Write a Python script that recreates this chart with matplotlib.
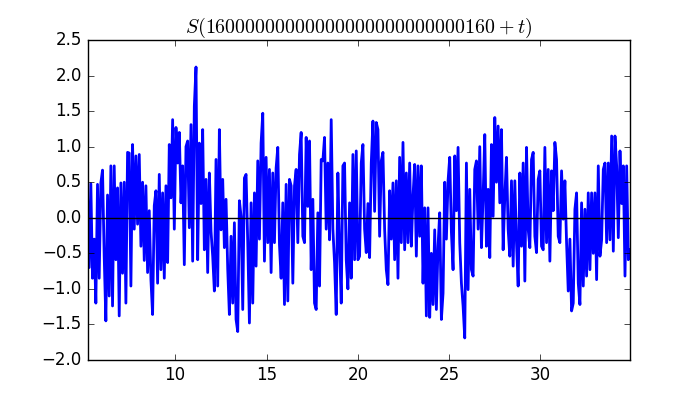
import numpy as np
import matplotlib
matplotlib.use("Agg")
import matplotlib.pyplot as plt

plt.style.use('classic')

# S(T+t), evenly spaced samples over t = 5.2 ... 34.9
t_first = 5.2
t_last  = 34.9
s_vals = [
    # t ~ 5.2 - 8.0
    0.35, -0.7, 0.48, -0.85, -0.3, -1.2, 0.47, -0.85, 0.49, 0.67,
    -0.54, -1.45, 0.32, -1.1, 0.73, -1.24, 0.73, -0.59, 0.42, -1.38,
    0.49, -0.78, 0.5, -1.2, 0.92, 0.91, -0.96, 1.03, -0.16, 0.87, -0.09,
    # t ~ 8.1 - 11.0
    0.89, -0.4, 0.5, -0.6, 0.45, -0.77, 0.1, -0.87, -1.36, 0.17,
    0.38, -0.92, 0.61, -0.73, 0.35, -0.85, 0.45, -0.63, 1.03, 0.28,
    1.38, -0.16, 1.27, 0.77, 1.2, 0.21, 0.73, -0.66, 1.0, 1.08,
    -0.14, 1.31, -0.61,
    # t ~ 11.1 - 14.0
    1.57, 2.12, -0.59, 1.05, 0.2, 1.24, -0.45, 0.54, -0.77, 0.63,
    -0.19, -0.54, -1.03, 0.82, -0.96, 1.24, -0.17, 0.54, -0.42, 0.26,
    -0.72, -1.36, -0.26, -1.2, -0.07, -1.43, -1.6, 0.24, 0.02, -1.29,
    0.56, 0.61, -0.35,
    # t ~ 14.1 - 17.0
    -1.48, 0.21, -1.2, 0.35, -0.68, 0.8, -0.3, 1.05, 1.47, -0.61,
    0.85, -0.35, 0.68, -0.77, 0.63, -0.35, 0.7, 0.99, -0.38, -0.85,
    0.21, -1.22, 0.47, -1.17, 0.54, 0.45, -0.92, 0.45, 0.68, -0.35,
    0.89, 1.2, -0.26,
    # t ~ 17.1 - 20.1
    -0.35, 1.13, 0.16, 1.08, -0.73, 0.26, -1.2, -1.29, 0.07, -0.96,
    0.82, 0.8, 1.13, -0.16, 0.77, -0.31, 1.38, -0.16, -0.63, -1.36,
    0.63, -0.4, -1.2, 0.73, 0.77, -0.59, -1.0, 0.21, -0.85, 0.89,
    -0.59, 0.94, -0.59,
    # t ~ 20.1 - 23.1
    -0.54, 0.77, 1.03, -0.16, -0.49, 0.2, -0.56, 0.77, 1.36, 0.09,
    1.34, 1.24, -0.26, 0.8, 0.92, -0.16, -0.73, -0.94, 0.38, -0.3,
    0.49, -0.59, 0.52, -0.85, 0.85, -0.35, 1.06, -0.45, 0.63, -0.35,
    0.77, -0.4, 0.3,
    # t ~ 23.2 - 26.1
    0.75, -0.54, 0.73, -0.26, 0.73, -0.92, 0.14, -1.38, 0.14, -1.4,
    -0.5, -1.22, -0.17, -1.29, -0.4, 0.07, -1.43, -1.06, 0.5, -0.3,
    0.52, 0.85, -0.2, -0.73, 0.87, 0.1, 0.99, -0.35, -0.92, -1.24,
    -1.69, 0.77, -1.01,
    # t ~ 26.2 - 29.1
    0.4, -0.73, -0.82, 0.68, 0.8, -0.16, 1.0, -0.42, 0.3, 1.17,
    -0.4, 0.4, -0.56, 1.03, 0.02, 1.41, 0.5, 1.29, 0.21, 1.24,
    -0.45, 0.3, 0.85, -0.16, -0.54, 0.52, -0.68, 0.52, -0.35, -0.96,
    0.63, -0.4, 0.77,
    # t ~ 29.2 - 32.1
    -0.89, 0.99, -0.16, -0.42, 0.82, 0.92, -0.26, -0.49, 0.54, 0.66,
    -0.4, -0.45, 0.99, -0.35, 0.68, -0.61, 0.66, 0.1, 1.06, 0.82,
    -0.26, -0.35, 0.66, -0.02, 0.52, -0.35, -1.03, -0.3, -1.31, -1.2,
    0.12, 0.35, -0.92,
    # t ~ 32.2 - 34.9
    -1.22, 0.21, -0.96, 0.12, -0.82, 0.35, -0.73, 0.35, -0.5, 0.35,
    -0.87, 0.73, -0.54, -0.31, 0.68, 0.77, -0.35, 0.77, -0.31, 1.15,
    -0.47, 1.15, 0.73, -0.28, 0.94, 0.2, 0.73, -0.82, 0.73, -0.59,
    -0.45,
]
title = r'$S(16000000000000000000000000160+t)$'

t = np.linspace(t_first, t_last, len(s_vals))

fig = plt.figure(figsize=(7, 4), dpi=100)
ax = fig.add_subplot(111)
ax.plot(t, s_vals, 'b', lw=2)
ax.axhline(0, color='k')
ax.set_xlim(t_first, t_last)
ax.set_ylim(-2.0, 2.5)
ax.set_title(title)
fig.savefig('out.png', dpi=100)
